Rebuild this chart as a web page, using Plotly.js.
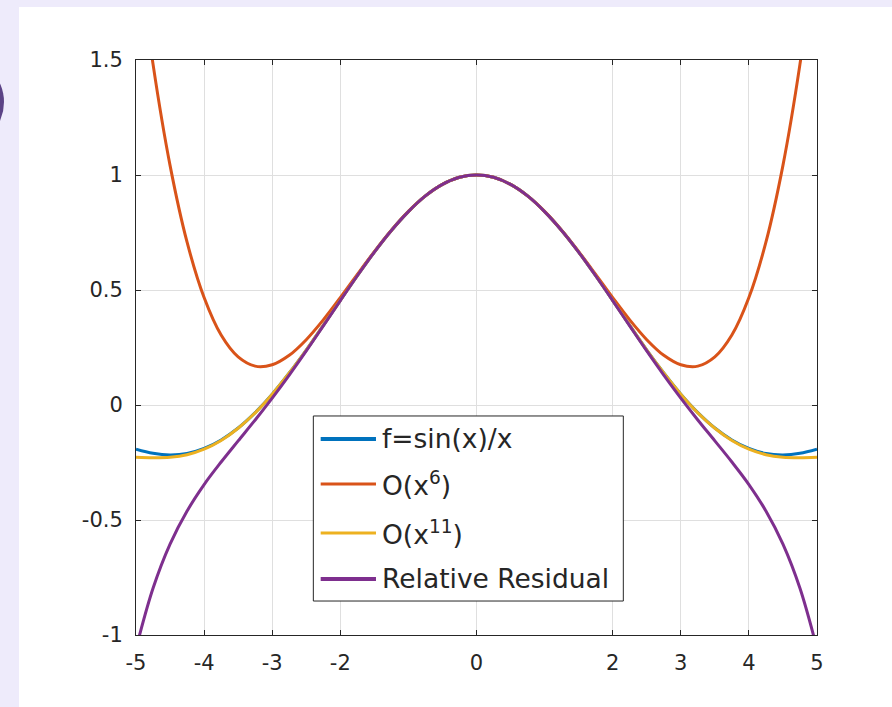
<!DOCTYPE html>
<html><head><meta charset="utf-8">
<script src="https://cdn.plot.ly/plotly-3.0.1.min.js"></script>
<style>
html,body{margin:0;padding:0;background:#eeebfb;width:892px;height:707px;overflow:hidden;}
#panel{position:absolute;left:19px;top:7px;width:873px;height:700px;background:#ffffff;}
#dot{position:absolute;left:-86px;top:57px;width:90px;height:90px;border-radius:50%;background:#5b4386;}
#chart{position:absolute;left:0;top:0;width:892px;height:707px;}
</style></head>
<body><div id="panel"></div><div id="dot"></div><div id="chart"></div>
<script>
// ---- data ----
const xs = [-5,-4.75,-4.5,-4.25,-4,-3.75,-3.5,-3.25,-3,-2.75,-2.5,-2.25,-2,-1.75,-1.5,-1.25,-1,-0.75,-0.5,-0.25,0,
            0.25,0.5,0.75,1,1.25,1.5,1.75,2,2.25,2.5,2.75,3,3.25,3.5,3.75,4,4.25,4.5,4.75,5];
const sincVals = [-0.192,-0.210,-0.217,-0.211,-0.189,-0.152,-0.100,-0.033,0.047,0.139,0.239,0.346,0.455,0.562,0.665,0.759,0.841,0.909,0.959,0.990,1,
                  0.990,0.959,0.909,0.841,0.759,0.665,0.562,0.455,0.346,0.239,0.139,0.047,-0.033,-0.100,-0.152,-0.189,-0.211,-0.217,-0.210,-0.192];
const o6Vals = [2.042,1.482,1.042,0.708,0.467,0.304,0.209,0.169,0.175,0.216,0.284,0.370,0.467,0.568,0.667,0.760,0.842,0.909,0.959,0.990,1,
                0.990,0.959,0.909,0.842,0.760,0.667,0.568,0.467,0.370,0.284,0.216,0.175,0.169,0.209,0.304,0.467,0.708,1.042,1.482,2.042];
const o11Vals = [-0.227,-0.229,-0.227,-0.216,-0.192,-0.154,-0.101,-0.034,0.047,0.139,0.239,0.346,0.455,0.562,0.665,0.759,0.841,0.909,0.959,0.990,1,
                 0.990,0.959,0.909,0.841,0.759,0.665,0.562,0.455,0.346,0.239,0.139,0.047,-0.034,-0.101,-0.154,-0.192,-0.216,-0.227,-0.229,-0.227];
const residVals = [-1.059,-0.797,-0.605,-0.461,-0.346,-0.248,-0.156,-0.065,0.030,0.130,0.235,0.344,0.454,0.562,0.665,0.759,0.841,0.909,0.959,0.990,1,
                   0.990,0.959,0.909,0.841,0.759,0.665,0.562,0.454,0.344,0.235,0.130,0.030,-0.065,-0.156,-0.248,-0.346,-0.461,-0.605,-0.797,-1.059];
const seriesNames = ['f=sin(x)/x','O(x<sup>6</sup>)','O(x<sup>11</sup>)','Relative Residual'];
const xTickVals = [-5,-4,-3,-2,0,2,3,4,5];
const xTickText = ['-5','-4','-3','-2','0','2','3','4','5'];
const yTickVals = [-1,-0.5,0,0.5,1,1.5];
const yTickText = ['-1','-0.5','0','0.5','1','1.5'];

// ---- style ----
const colors = ['#0072BD','#D95319','#EDB120','#7E2F8E'];
const seriesY = [sincVals,o6Vals,o11Vals,residVals];
const axisColor = '#262626';
const font = '"DejaVu Sans", Arial, sans-serif';

const traces = seriesY.map((ys,i)=>({
  x: xs, y: ys, type:'scatter', mode:'lines', name: seriesNames[i],
  line:{color:colors[i], width:3, shape:'spline', smoothing:1},
  hoverinfo:'skip'
}));

// custom legend (paper coordinates)
const lg = {x0:0.2604, x1:0.7156, y0:0.0591, y1:0.3809, lx0:0.2712, lx1:0.3524, tx:0.3583,
            rows:[0.3409,0.2626,0.1774,0.0974]};
const shapes = [{type:'rect', xref:'paper', yref:'paper', x0:lg.x0, x1:lg.x1, y0:lg.y0, y1:lg.y1,
                 fillcolor:'#ffffff', line:{color:axisColor, width:1}, layer:'above'}];
const annotations = [];
seriesNames.forEach((n,i)=>{
  shapes.push({type:'line', xref:'paper', yref:'paper', x0:lg.lx0, x1:lg.lx1, y0:lg.rows[i], y1:lg.rows[i],
               line:{color:colors[i], width:(i===0||i===3)?4:3}, layer:'above'});
  annotations.push({xref:'paper', yref:'paper', x:lg.tx, y:lg.rows[i], xanchor:'left', yanchor:'middle',
                    text:n, showarrow:false, font:{family:font, size:26.5, color:axisColor}});
});

const axisCommon = {ticks:'inside', ticklen:5, tickcolor:axisColor, tickwidth:1, showline:true, linecolor:axisColor,
  linewidth:1, mirror:'ticks', showgrid:true, gridcolor:'#dfdfdf', gridwidth:1, zeroline:false,
  tickfont:{family:font, size:21, color:axisColor}};

const layout = {
  width:892, height:707,
  margin:{l:136, r:75, t:60, b:72},
  paper_bgcolor:'rgba(0,0,0,0)', plot_bgcolor:'#ffffff',
  showlegend:false,
  xaxis:Object.assign({}, axisCommon, {range:[-5,5], tickmode:'array', tickvals:xTickVals, ticktext:xTickText, ticklabelstandoff:9}),
  yaxis:Object.assign({}, axisCommon, {range:[-1,1.5], tickmode:'array', tickvals:yTickVals, ticktext:yTickText, ticklabelstandoff:8}),
  shapes:shapes, annotations:annotations
};
Plotly.newPlot('chart', traces, layout, {displayModeBar:false, staticPlot:true});
</script></body></html>
